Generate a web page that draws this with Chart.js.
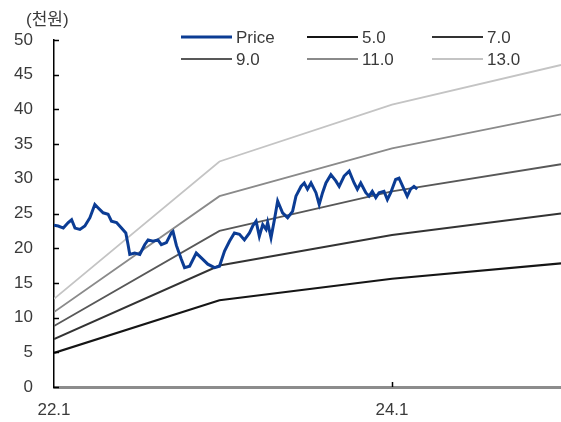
<!DOCTYPE html>
<html>
<head>
<meta charset="utf-8">
<script src="https://cdn.jsdelivr.net/npm/chart.js@4.4.1/dist/chart.umd.min.js"></script>
<style>
  html, body { margin: 0; padding: 0; background: #fff; }
  #wrap { width: 561px; height: 422px; position: relative; }
</style>
</head>
<body>
<div id="wrap"><canvas id="c"></canvas></div>
<script>
// Unit shown above the value axis
const unitLabel = '(천원)';

// Time axis is measured in months counted from 22.1
const xTickMonths = [0, 24];
const xTickLabels = ['22.1', '24.1'];

// Share price (thousand won)
const priceMonths = [
  0.00, 0.30, 0.66, 1.01, 1.25, 1.49, 1.84, 2.19, 2.55, 2.90,
  3.14, 3.49, 3.84, 4.08, 4.44, 4.79, 5.10, 5.26, 5.38, 5.73,
  6.09, 6.44, 6.68, 7.03, 7.38, 7.62, 7.98, 8.33, 8.45, 8.69,
  9.04, 9.27, 9.63, 10.10, 10.46, 10.92, 11.40, 11.75, 12.11, 12.46,
  12.81, 13.17, 13.52, 13.88, 14.11, 14.35, 14.58, 14.82, 15.06, 15.17,
  15.41, 15.65, 15.88, 16.23, 16.59, 16.94, 17.18, 17.54, 17.77, 18.00,
  18.25, 18.60, 18.83, 19.07, 19.31, 19.66, 20.01, 20.25, 20.60, 20.96,
  21.31, 21.54, 21.78, 22.14, 22.37, 22.60, 22.85, 23.08, 23.43, 23.67,
  23.91, 24.26, 24.50, 24.85, 25.08, 25.32, 25.56, 25.79
];
const priceValues = [
  23.3, 23.2, 22.9, 23.7, 24.1, 22.9, 22.7, 23.2, 24.4, 26.3,
  25.8, 25.1, 24.9, 23.9, 23.7, 22.9, 22.2, 20.5, 19.1, 19.3,
  19.1, 20.5, 21.2, 21.0, 21.2, 20.5, 20.8, 22.2, 22.4, 20.4,
  18.4, 17.2, 17.4, 19.3, 18.6, 17.7, 17.2, 17.4, 19.6, 21.0,
  22.2, 22.0, 21.2, 22.2, 23.2, 23.9, 21.7, 23.4, 22.7, 23.7,
  21.5, 24.1, 26.8, 25.1, 24.4, 25.3, 27.5, 28.9, 29.4, 28.5,
  29.4, 28.0, 26.3, 28.0, 29.4, 30.6, 29.7, 28.9, 30.4, 31.1,
  29.4, 28.5, 29.4, 28.0, 27.5, 28.2, 27.3, 28.0, 28.2, 27.0,
  28.0, 29.9, 30.1, 28.5, 27.5, 28.5, 28.9, 28.5
];

// PER band lines (thousand won at each EPS point)
const bandMonths = [0, 11.75, 24, 36];
const band5  = [4.9, 12.5, 15.6, 17.8];
const band7  = [6.9, 17.5, 21.9, 25.0];
const band9  = [8.8, 22.5, 28.2, 32.1];
const band11 = [10.8, 27.5, 34.4, 39.3];
const band13 = [12.7, 32.5, 40.7, 46.4];
const bandNames = ['5.0', '7.0', '9.0', '11.0', '13.0'];

const TEXT = '#3a3a3a';
const FONT = "'Liberation Sans', Arial, sans-serif";

const toPoints = (xs, ys) => xs.map((x, i) => ({ x, y: ys[i] }));

const bandStyles = [
  { color: '#151515', width: 2.2 },
  { color: '#333333', width: 2.0 },
  { color: '#585858', width: 1.8 },
  { color: '#8a8a8a', width: 1.8 },
  { color: '#c4c4c4', width: 1.8 }
];
const bandSeries = [band5, band7, band9, band11, band13];

const datasets = [{
  label: 'Price',
  data: toPoints(priceMonths, priceValues),
  borderColor: '#0b3c94',
  borderWidth: 3,
  pointRadius: 0,
  tension: 0
}].concat(bandSeries.map((vals, i) => ({
  label: bandNames[i],
  data: toPoints(bandMonths, vals),
  borderColor: bandStyles[i].color,
  borderWidth: bandStyles[i].width,
  pointRadius: 0,
  tension: 0
})));

// Short tick marks pointing into the plot area
const innerTicks = {
  id: 'innerTicks',
  afterDraw(chart) {
    const { ctx, scales: { x, y } } = chart;
    ctx.save();
    ctx.strokeStyle = '#000';
    ctx.lineWidth = 1.5;
    y.ticks.forEach(t => {
      const py = Math.round(y.getPixelForValue(t.value)) + 0.5;
      ctx.beginPath();
      ctx.moveTo(x.left, py);
      ctx.lineTo(x.left + 5, py);
      ctx.stroke();
    });
    x.ticks.forEach(t => {
      if (t.value === x.min) return;
      const px = Math.round(x.getPixelForValue(t.value)) + 0.5;
      ctx.beginPath();
      ctx.moveTo(px, y.bottom);
      ctx.lineTo(px, y.bottom - 5);
      ctx.stroke();
    });
    ctx.restore();
  }
};

// Unit caption and a 3-column legend laid over the top of the plot
const overlay = {
  id: 'overlay',
  afterDraw(chart) {
    const { ctx } = chart;
    ctx.save();
    ctx.fillStyle = TEXT;
    ctx.textBaseline = 'middle';
    ctx.textAlign = 'left';
    ctx.font = "17px 'Liberation Sans', 'Noto Sans CJK KR', sans-serif";
    ctx.fillText(unitLabel, 26, 20);

    const cols = [181, 307, 432];
    const rows = [37, 59];
    const lineLen = 51;
    ctx.font = '17px ' + FONT;
    chart.data.datasets.forEach((ds, i) => {
      const cx = cols[i % 3];
      const cy = rows[Math.floor(i / 3)];
      ctx.strokeStyle = ds.borderColor;
      ctx.lineWidth = ds.borderWidth;
      ctx.beginPath();
      ctx.moveTo(cx, cy);
      ctx.lineTo(cx + lineLen, cy);
      ctx.stroke();
      ctx.fillStyle = TEXT;
      ctx.fillText(ds.label, cx + lineLen + 4, cy + 1);
    });
    ctx.restore();
  }
};

new Chart(document.getElementById('c'), {
  type: 'line',
  data: { datasets },
  options: {
    responsive: true,
    maintainAspectRatio: false,
    animation: false,
    layout: { padding: { left: 14, right: 0, top: 40, bottom: 0 } },
    plugins: {
      legend: { display: false },
      tooltip: { enabled: false }
    },
    scales: {
      x: {
        type: 'linear',
        min: 0,
        max: 36,
        afterBuildTicks(scale) {
          scale.ticks = xTickMonths.map(v => ({ value: v }));
        },
        afterFit(scale) {
          scale.paddingLeft = 0;
          scale.paddingRight = 0;
          scale.height = 35;
        },
        ticks: {
          autoSkip: false,
          maxRotation: 0,
          padding: 13,
          color: TEXT,
          font: { family: FONT, size: 17 },
          callback(value) {
            const i = xTickMonths.indexOf(value);
            return i >= 0 ? xTickLabels[i] : '';
          }
        },
        grid: { display: false, drawTicks: false },
        border: { display: true, color: '#8c8c8c', width: 3 }
      },
      y: {
        min: 0,
        max: 50,
        afterFit(scale) {
          scale.paddingTop = 0;
          scale.paddingBottom = 0;
          scale.width = 40;
        },
        ticks: {
          stepSize: 5,
          padding: 21,
          color: TEXT,
          font: { family: FONT, size: 17 }
        },
        grid: { display: false, drawTicks: false },
        border: { display: true, color: '#000', width: 1.5 }
      }
    }
  },
  plugins: [innerTicks, overlay]
});
</script>
</body>
</html>
